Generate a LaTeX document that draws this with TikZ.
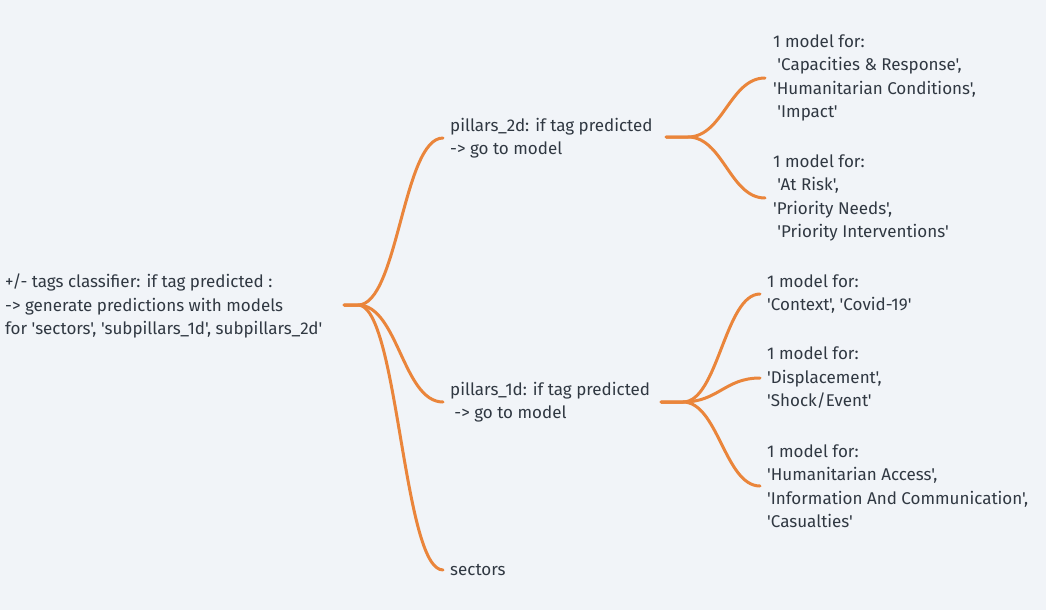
\documentclass[tikz,border=0pt]{standalone}
\usepackage{fontspec}
\setmainfont{Fira Sans}[Ligatures=TeXOff]
\definecolor{bgc}{RGB}{241,244,248}
\definecolor{orangec}{RGB}{234,133,59}
\definecolor{textc}{RGB}{48,56,66}
\begin{document}
\begin{tikzpicture}[x=1pt,y=-1pt,
  txt/.style={anchor=west, inner sep=0pt, align=left, text=textc, font=\fontsize{17}{23.5}\selectfont},
  conn/.style={draw=orangec, line width=3pt, line cap=round}]
\fill[bgc] (0,0) rectangle (1046,610);
\useasboundingbox (0,0) rectangle (1046,610);

\node[txt] (root) at (5,306) {+/- tags classifier: if tag predicted :\\-> generate predictions with models\\for 'sectors', 'subpillars\_1d', subpillars\_2d'};

\node[txt] (p2d) at (450,138) {pillars\_2d: if tag predicted\\-> go to model};
\node[txt] (p1d) at (450,402) {pillars\_1d: if tag predicted\\\hspace*{0.25em}-> go to model};
\node[txt] (sec) at (450,570) {sectors};

\node[txt] (ma) at (773,78) {1 model for:\\\hspace*{0.25em}'Capacities \& Response',\\'Humanitarian Conditions',\\\hspace*{0.25em}'Impact'};
\node[txt] (mb) at (773,198) {1 model for:\\\hspace*{0.25em}'At Risk',\\'Priority Needs',\\\hspace*{0.25em}'Priority Interventions'};

\node[txt] (mc) at (767,294) {1 model for:\\'Context', 'Covid-19'};
\node[txt] (md) at (767,378) {1 model for:\\'Displacement',\\'Shock/Event'};
\node[txt] (me) at (767,486) {1 model for:\\'Humanitarian Access',\\'Information And Communication',\\'Casualties'};

\coordinate (r0) at (344,305);
\coordinate (r1) at (358,305);
\foreach \t in {p2d,p1d,sec}{
  \draw[conn] (r0) -- (r1) .. controls +(40,0) and +(-40,0) .. ([xshift=-7pt]\t.west);
}
\coordinate (a0) at (666,137);
\coordinate (a1) at (688,137);
\foreach \t in {ma,mb}{
  \draw[conn] (a0) -- (a1) .. controls +(35,0) and +(-35,0) .. ([xshift=-8pt]\t.west);
}
\coordinate (b0) at (661,402);
\coordinate (b1) at (683,402);
\foreach \t in {mc,md,me}{
  \draw[conn] (b0) -- (b1) .. controls +(35,0) and +(-35,0) .. ([xshift=-7pt]\t.west);
}
\end{tikzpicture}
\end{document}
